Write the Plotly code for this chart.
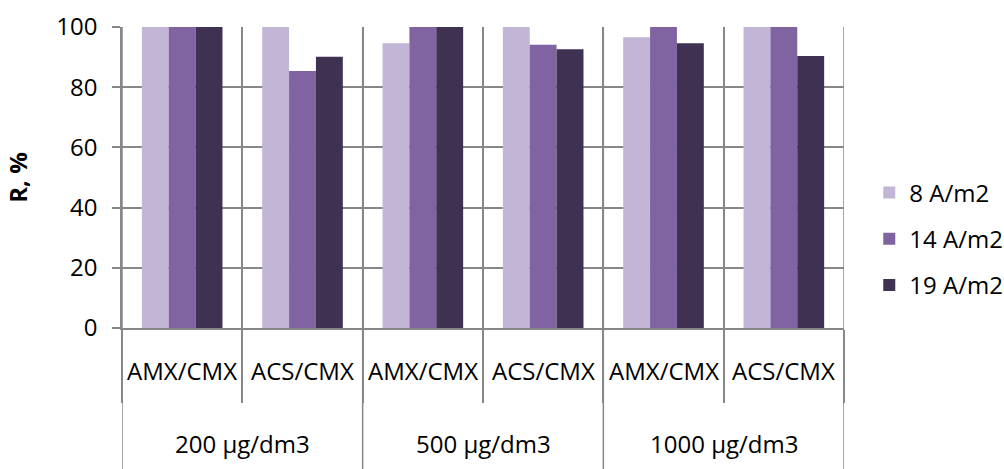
import plotly.graph_objects as go

concentrations = ["200 μg/dm3", "200 μg/dm3", "500 μg/dm3", "500 μg/dm3", "1000 μg/dm3", "1000 μg/dm3"]
membranes = ["AMX/CMX", "ACS/CMX", "AMX/CMX", "ACS/CMX", "AMX/CMX", "ACS/CMX"]

series_names = ["8 A/m2", "14 A/m2", "19 A/m2"]
r_8 = [100, 100, 94.6, 100, 96.6, 100]
r_14 = [100, 85.4, 100, 94.1, 100, 100]
r_19 = [100, 90.1, 100, 92.6, 94.6, 90.4]
y_ticks = [0, 20, 40, 60, 80, 100]

colors = ["#C3B5D6", "#8064A2", "#3F3151"]
FONT = "Open Sans"
FS = 24
GRID = "#878787"

# unique category keys for the x axis (labels drawn below as two rows)
keys = [f"{c} | {m}" for c, m in zip(concentrations, membranes)]

fig = go.Figure()
for name, vals, col in zip(series_names, [r_8, r_14, r_19], colors):
    fig.add_trace(go.Bar(
        x=keys, y=vals, name=name,
        marker=dict(color=col, line=dict(width=0)),
        legendgroup=name,
    ))

# plot area geometry (pixels)
L, R, T, B = 122, 160, 27, 141
H = 469 - T - B

def py(pix_below_axis):
    return -pix_below_axis / H

annotations = []
# first row: membrane labels
for i, m in enumerate(membranes):
    annotations.append(dict(x=i, y=py(42), xref="x", yref="paper", text=m,
                            showarrow=False, yanchor="middle", xanchor="center",
                            font=dict(family=FONT, size=FS, color="black")))
# second row: concentration group labels + divider lines
shapes = []
groups = []
for i, c in enumerate(concentrations):
    if not groups or groups[-1][0] != c:
        groups.append([c, i, i])
    else:
        groups[-1][2] = i
for c, i0, i1 in groups:
    annotations.append(dict(x=(i0 + i1) / 2, y=py(115), xref="x", yref="paper", text=c,
                            showarrow=False, yanchor="middle", xanchor="center",
                            font=dict(family=FONT, size=FS, color="black")))
bounds = [groups[0][1] - 0.5] + [g[2] + 0.5 for g in groups]
for b in bounds:
    shapes.append(dict(type="line", xref="x", yref="paper", x0=b, x1=b,
                       y0=py(141), y1=1, line=dict(color=GRID, width=1.5), layer="below"))

fig.update_layout(
    width=1004, height=469,
    margin=dict(l=L, r=R, t=T, b=B, autoexpand=False),
    paper_bgcolor="white", plot_bgcolor="white",
    barmode="group", bargap=0.33, bargroupgap=0,
    font=dict(family=FONT, size=FS, color="black"),
    showlegend=True,
    legend=dict(x=1.035, xanchor="left", y=0.296, yanchor="middle",
                font=dict(family=FONT, size=FS), tracegroupgap=12,
                bgcolor="rgba(0,0,0,0)"),
    annotations=annotations,
    shapes=shapes,
)
fig.update_yaxes(
    range=[0, 100], tickvals=y_ticks, ticks="outside", ticklen=8, tickcolor=GRID,
    tickwidth=1.5, showgrid=True, gridcolor=GRID, gridwidth=1.5,
    showline=True, linecolor=GRID, linewidth=1.5, zeroline=False,
    ticklabelstandoff=10, automargin=False,
    title=dict(text="<b>R, %</b>", font=dict(family=FONT, size=FS), standoff=22),
)
fig.update_xaxes(
    type="category", tickson="boundaries", ticks="outside", ticklen=73,
    tickcolor=GRID, tickwidth=1.5, showgrid=True, gridcolor=GRID, gridwidth=1.5,
    showline=True, linecolor=GRID, linewidth=1.5, showticklabels=False,
    automargin=False, range=[-0.5, len(keys) - 0.5],
)

fig.write_html("out.html", config={"displayModeBar": False},
               post_script="document.body.style.margin='0';document.body.style.overflow='hidden';")
